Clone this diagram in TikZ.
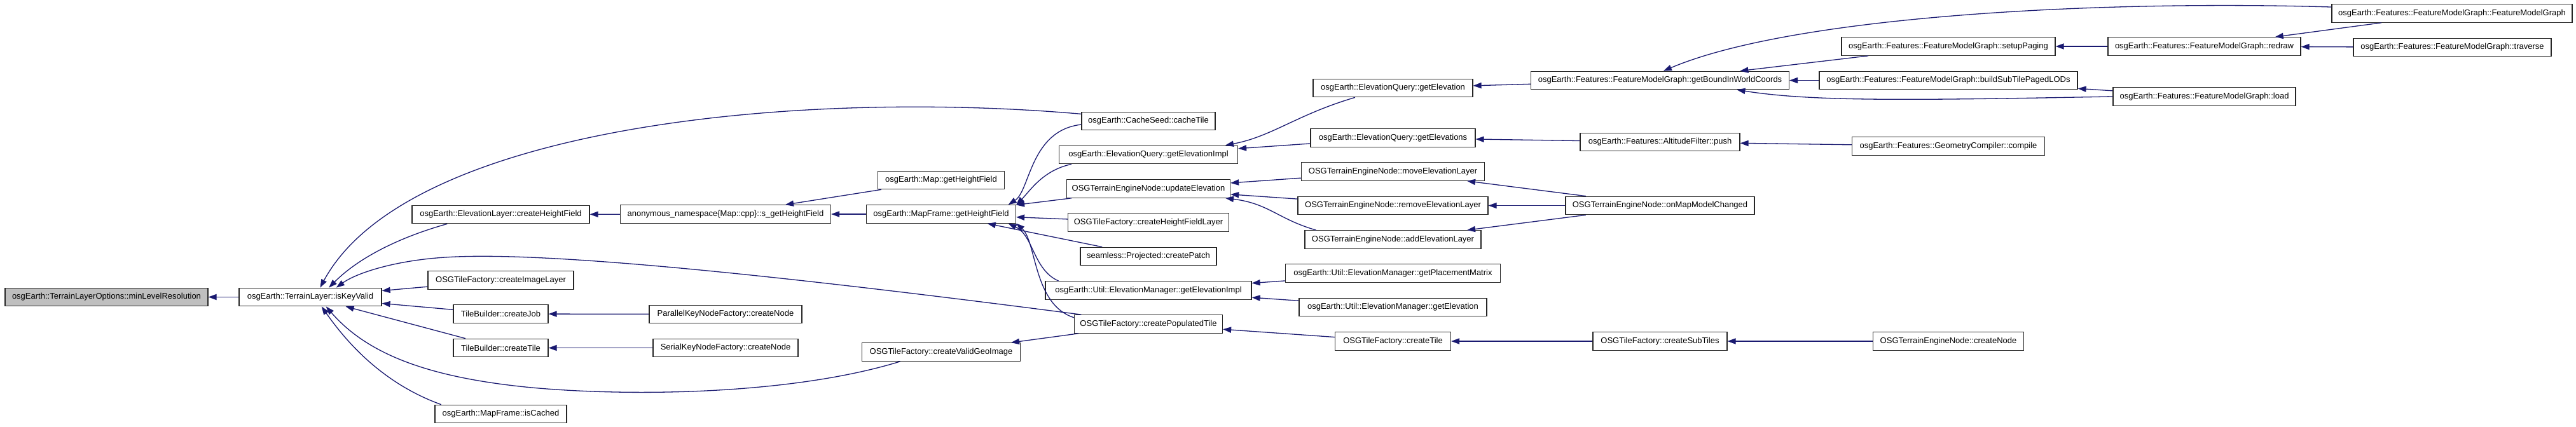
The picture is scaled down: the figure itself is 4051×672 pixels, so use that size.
\documentclass[tikz,border=0pt]{standalone}
\usepackage{fontspec}
\setmainfont{Liberation Sans}
\usetikzlibrary{arrows.meta}
\definecolor{midnight}{HTML}{191970}
\tikzset{
  fn/.style={draw=black!85, fill=white, line width=0.6pt, minimum height=14.25pt,
    inner xsep=1pt, inner ysep=0pt, font=\fontsize{6.5}{7}\selectfont},
  root/.style={fn, fill=black!25},
  call/.style={draw=midnight, line width=0.65pt, -{Triangle[length=6.5pt,width=4.6pt]}}
}

\begin{document}
\begin{tikzpicture}[x=0.5pt, y=-0.5pt]
	\def\colA{167.5};
	\def\colB{488};
	\def\colC{787.5};
	\def\colD{1141};
	\def\colE{1480};
	\def\colF{1806};
	\def\colG{2190.5};
	\def\colH{2610.5};
	\def\colI{3064};
	\def\colJ{3466.5};
	\def\colK{3856};

	\useasboundingbox (0,0) rectangle (4051,672);

	% functions, one column per call depth
	\node[root, minimum width=159.5pt] (minLevelRes) at (\colA,467.5) {osgEarth::TerrainLayerOptions::minLevelResolution};
	\node[fn, minimum width=112pt] (isKeyValid) at (\colB,467.5) {osgEarth::TerrainLayer::isKeyValid};

	\node[fn, minimum width=139.5pt] (elevCreateHF) at (\colC,337.5) {osgEarth::ElevationLayer::createHeightField};
	\node[fn, minimum width=114.5pt] (createImageLayer) at (\colC,441) {OSGTileFactory::createImageLayer};
	\node[fn, minimum width=74.5pt] (createJob) at (\colC,494) {TileBuilder::createJob};
	\node[fn, minimum width=74.5pt] (builderCreateTile) at (\colC,547.5) {TileBuilder::createTile};
	\node[fn, minimum width=103.5pt] (isCached) at (\colC,651.5) {osgEarth::MapFrame::isCached};

	\node[fn, minimum width=165.5pt] (sGetHF) at (\colD,337) {anonymous\_namespace\{Map::cpp\}::s\_getHeightField};
	\node[fn, minimum width=120pt] (parallelCreateNode) at (\colD,494.5) {ParallelKeyNodeFactory::createNode};
	\node[fn, minimum width=114pt] (serialCreateNode) at (\colD,547.5) {SerialKeyNodeFactory::createNode};

	\node[fn, minimum width=99.5pt] (mapGetHF) at (\colE,283.5) {osgEarth::Map::getHeightField};
	\node[fn, minimum width=117.5pt] (frameGetHF) at (\colE,337) {osgEarth::MapFrame::getHeightField};
	\node[fn, minimum width=124.5pt] (createValidGeoImage) at (\colE,554) {OSGTileFactory::createValidGeoImage};

	\node[fn, minimum width=105pt] (cacheTile) at (\colF,190.5) {osgEarth::CacheSeed::cacheTile};
	\node[fn, minimum width=140.5pt] (getElevImpl) at (\colF,243.5) {osgEarth::ElevationQuery::getElevationImpl};
	\node[fn, minimum width=128.5pt] (updateElev) at (\colF,297) {OSGTerrainEngineNode::updateElevation};
	\node[fn, minimum width=126.5pt] (createHFLayer) at (\colF,350) {OSGTileFactory::createHeightFieldLayer};
	\node[fn, minimum width=107pt] (createPatch) at (\colF,403.5) {seamless::Projected::createPatch};
	\node[fn, minimum width=162pt] (mgrGetElevImpl) at (\colF,457) {osgEarth::Util::ElevationManager::getElevationImpl};
	\node[fn, minimum width=116.5pt] (createPopulatedTile) at (\colF,510) {OSGTileFactory::createPopulatedTile};

	\node[fn, minimum width=125.5pt] (queryGetElev) at (\colG,138.5) {osgEarth::ElevationQuery::getElevation};
	\node[fn, minimum width=129.5pt] (queryGetElevs) at (\colG,217) {osgEarth::ElevationQuery::getElevations};
	\node[fn, minimum width=144pt] (moveLayer) at (\colG,270) {OSGTerrainEngineNode::moveElevationLayer};
	\node[fn, minimum width=149.5pt] (removeLayer) at (\colG,323.5) {OSGTerrainEngineNode::removeElevationLayer};
	\node[fn, minimum width=138.5pt] (addLayer) at (\colG,377) {OSGTerrainEngineNode::addElevationLayer};
	\node[fn, minimum width=169pt] (placementMatrix) at (\colG,430) {osgEarth::Util::ElevationManager::getPlacementMatrix};
	\node[fn, minimum width=147.5pt] (mgrGetElev) at (\colG,483.5) {osgEarth::Util::ElevationManager::getElevation};
	\node[fn, minimum width=91pt] (factoryCreateTile) at (\colG,537) {OSGTileFactory::createTile};

	\node[fn, minimum width=203pt] (boundInWorld) at (\colH,126.5) {osgEarth::Features::FeatureModelGraph::getBoundInWorldCoords};
	\node[fn, minimum width=125.5pt] (altitudePush) at (\colH,223.5) {osgEarth::Features::AltitudeFilter::push};
	\node[fn, minimum width=148.5pt] (mapModelChanged) at (\colH,323.5) {OSGTerrainEngineNode::onMapModelChanged};
	\node[fn, minimum width=105.5pt] (createSubTiles) at (\colH,537) {OSGTileFactory::createSubTiles};

	\node[fn, minimum width=168pt] (setupPaging) at (\colI,73) {osgEarth::Features::FeatureModelGraph::setupPaging};
	\node[fn, minimum width=203pt] (buildSubTiles) at (\colI,126.5) {osgEarth::Features::FeatureModelGraph::buildSubTilePagedLODs};
	\node[fn, minimum width=151.5pt] (geomCompile) at (\colI,230) {osgEarth::Features::GeometryCompiler::compile};
	\node[fn, minimum width=118.5pt] (engineCreateNode) at (\colI,537) {OSGTerrainEngineNode::createNode};

	\node[fn, minimum width=151.5pt] (redraw) at (\colJ,73) {osgEarth::Features::FeatureModelGraph::redraw};
	\node[fn, minimum width=143.5pt] (load) at (\colJ,152) {osgEarth::Features::FeatureModelGraph::load};

	\node[fn, minimum width=189pt] (fmgCtor) at (\colK,21) {osgEarth::Features::FeatureModelGraph::FeatureModelGraph};
	\node[fn, minimum width=155.5pt] (traverse) at (\colK+0.5,74.5) {osgEarth::Features::FeatureModelGraph::traverse};

	% calls, caller -> callee
	\draw[call] (isKeyValid) -- (minLevelRes);
	\draw[call] (cacheTile.174) .. controls (1250,140) and (640,200) .. (isKeyValid.44);
	\draw[call] (elevCreateHF.190) .. controls (640,370) and (570,400) .. (isKeyValid.27);
	\draw[call] (createPopulatedTile.172) .. controls (1200,430) and (850,395) .. (700,405)
		.. controls (620,410) and (560,430) .. (isKeyValid.20);
	\draw[call] (createImageLayer) -- (isKeyValid);
	\draw[call] (createJob) -- (isKeyValid);
	\draw[call] (builderCreateTile) -- (isKeyValid);
	\draw[call] (isCached.171) .. controls (620,610) and (560,560) .. (isKeyValid.-40);
	\draw[call] (createValidGeoImage.193) .. controls (1250,620) and (1000,625) .. (836,610)
		.. controls (680,595) and (580,560) .. (isKeyValid.-31);

	\draw[call] (sGetHF) -- (elevCreateHF);
	\draw[call] (mapGetHF) -- (sGetHF);
	\draw[call] (frameGetHF) -- (sGetHF);
	\draw[call] (parallelCreateNode) -- (createJob);
	\draw[call] (serialCreateNode) -- (builderCreateTile);

	\draw[call] (cacheTile.183) .. controls (1620,205) and (1620,300) .. (frameGetHF.8);
	\draw[call] (getElevImpl.187) .. controls (1640,268) and (1620,300) .. (frameGetHF.7);
	\draw[call] (updateElev) -- (frameGetHF);
	\draw[call] (createHFLayer) -- (frameGetHF);
	\draw[call] (createPatch) -- (frameGetHF);
	\draw[call] (mgrGetElevImpl.174) .. controls (1625,425) and (1625,370) .. (frameGetHF.-8);
	\draw[call] (createPopulatedTile.175) .. controls (1625,480) and (1630,380) .. (frameGetHF.-7);
	\draw[call] (createPopulatedTile) -- (createValidGeoImage);

	\draw[call] (queryGetElev.194) .. controls (2040,180) and (2000,215) .. (getElevImpl.7);
	\draw[call] (queryGetElevs) -- (getElevImpl);
	\draw[call] (moveLayer) -- (updateElev);
	\draw[call] (removeLayer) -- (updateElev);
	\draw[call] (addLayer.173) .. controls (2010,345) and (1995,320) .. (updateElev.-7);
	\draw[call] (placementMatrix) -- (mgrGetElevImpl);
	\draw[call] (mgrGetElev) -- (mgrGetElevImpl);
	\draw[call] (factoryCreateTile) -- (createPopulatedTile);

	\draw[call] (boundInWorld) -- (queryGetElev);
	\draw[call] (altitudePush) -- (queryGetElevs);
	\draw[call] (mapModelChanged) -- (moveLayer);
	\draw[call] (mapModelChanged) -- (removeLayer);
	\draw[call] (mapModelChanged) -- (addLayer);
	\draw[call] (createSubTiles) -- (factoryCreateTile);

	\draw[call] (fmgCtor.177) .. controls (3300,0) and (2820,25) .. (boundInWorld.70);
	\draw[call] (setupPaging) -- (boundInWorld);
	\draw[call] (buildSubTiles) -- (boundInWorld);
	\draw[call] (load.180) .. controls (3000,158) and (2850,160) .. (boundInWorld.-7);
	\draw[call] (geomCompile) -- (altitudePush);
	\draw[call] (engineCreateNode) -- (createSubTiles);

	\draw[call] (redraw) -- (setupPaging);
	\draw[call] (load) -- (buildSubTiles);
	\draw[call] (fmgCtor) -- (redraw);
	\draw[call] (traverse) -- (redraw);
\end{tikzpicture}
\end{document}
